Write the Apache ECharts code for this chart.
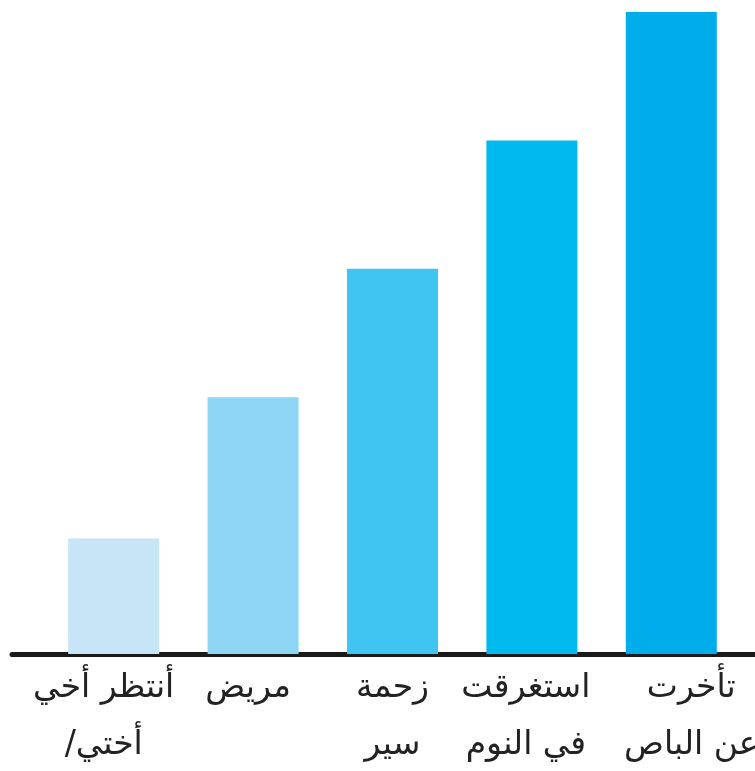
<!DOCTYPE html>
<html>
<head>
<meta charset="utf-8">
<script src="https://cdn.jsdelivr.net/npm/echarts@6/dist/echarts.min.js"></script>
<style>
  html, body { margin: 0; padding: 0; background: #fff; }
  #chart { width: 755px; height: 771px; }
</style>
</head>
<body>
<div id="chart"></div>
<script>
const categories = ["أنتظر أخي\n/أختي", "مريض", "زحمة\nسير", "استغرقت\nفي النوم", "تأخرت\nعن الباص"];
const values = [9, 20, 30, 40, 50];
const barColors = ["#c6e6f8", "#8ed5f4", "#40c4f1", "#00b9ef", "#00adeb"];
// small sideways nudges of the labels, as in the original layout
const labelShift = [-10, -5, 0, -6, 20];

function render_chart() {
    const chart = echarts.init(document.getElementById("chart"));

    const barData = values.map((v, i) => ({ value: v, itemStyle: { color: barColors[i] } }));
    const catData = categories.map((c, i) => {
        const s = labelShift[i];
        return { value: c, textStyle: { padding: s < 0 ? [0, -2 * s, 0, 0] : [0, 0, 0, 2 * s] } };
    });

    chart.setOption({
        animation: false,
        grid: [
            { left: 44, right: 14, top: 12, bottom: 117, outerBoundsMode: "none", containLabel: false },
            { left: 12, right: 0, top: 12, bottom: 117, outerBoundsMode: "none", containLabel: false },
        ],
        xAxis: [
            {
                type: "category",
                gridIndex: 0,
                data: catData,
                axisLine: { show: false },
                axisTick: { show: false },
                axisLabel: {
                    interval: 0,
                    margin: 6,
                    color: "#222",
                    fontSize: 33,
                    lineHeight: 57,
                    fontFamily: "DejaVu Sans",
                },
            },
            {
                type: "category",
                gridIndex: 1,
                data: [""],
                axisLine: { show: true, lineStyle: { color: "#1a1a1a", width: 5 } },
                axisTick: { show: false },
                axisLabel: { show: false },
            },
        ],
        yAxis: [
            { type: "value", gridIndex: 0, min: 0, max: 50, show: false },
            { type: "value", gridIndex: 1, show: false },
        ],
        series: [
            {
                type: "bar",
                xAxisIndex: 0,
                yAxisIndex: 0,
                data: barData,
                barWidth: 91,
            },
        ],
    });
}

window.addEventListener("load", render_chart);
</script>
</body>
</html>
